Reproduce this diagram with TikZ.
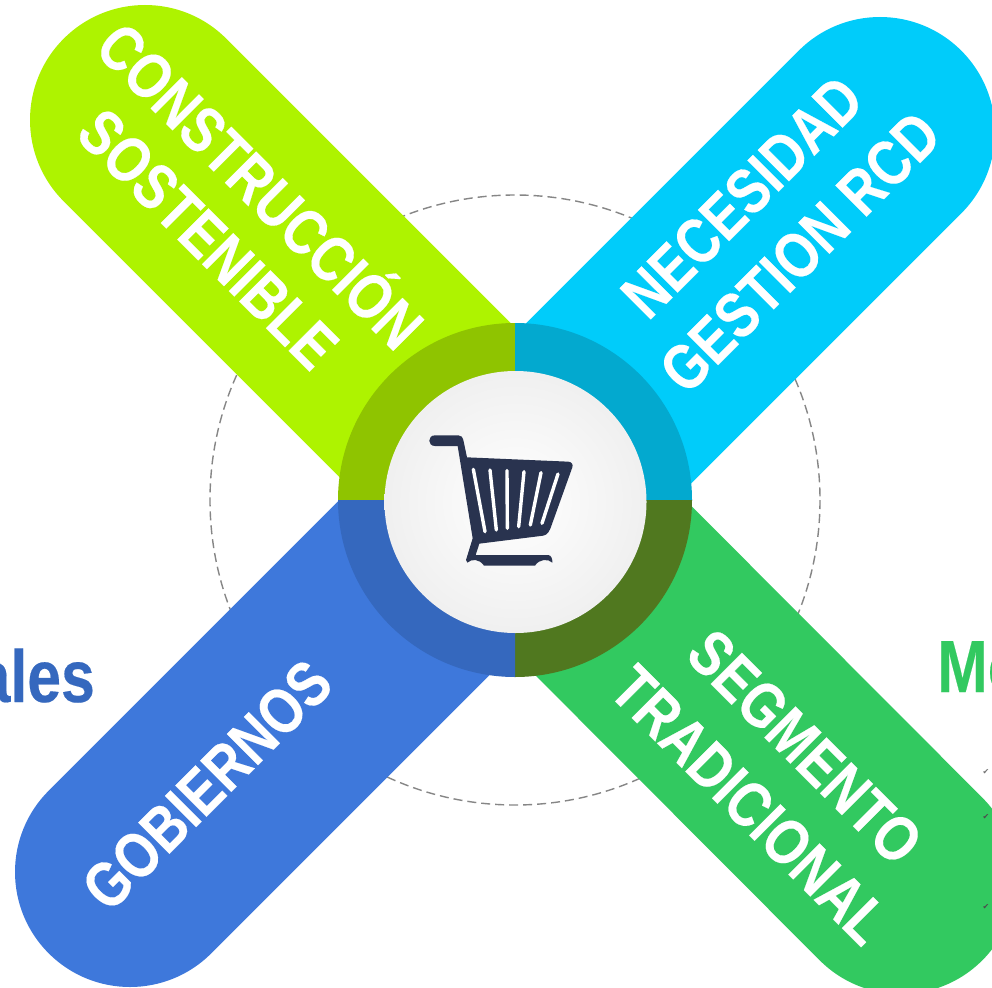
\documentclass[tikz,border=0pt]{standalone}
\usepackage{fontspec}
\setmainfont[FakeStretch=0.82,BoldFeatures={FakeBold=0.25}]{Liberation Sans}
\newfontfamily\symfont{DejaVu Sans}
\usetikzlibrary{shapes.geometric}
\definecolor{lime}{HTML}{AEF300}
\definecolor{limedark}{HTML}{8FC400}
\definecolor{sky}{HTML}{00CCFA}
\definecolor{skydark}{HTML}{03A9CF}
\definecolor{royal}{HTML}{3E78DB}
\definecolor{royaldark}{HTML}{3568BE}
\definecolor{leaf}{HTML}{32C960}
\definecolor{leafdark}{HTML}{50781F}
\definecolor{cartblue}{HTML}{29334F}
\tikzset{
  x=1pt,y=-1pt,
  band/.style={line width=230pt,line cap=round},
  bandlabel/.style={text=white,font=\bfseries\fontsize{64}{64}\selectfont,inner sep=0pt,anchor=center},
  sidelabel/.style={font=\bfseries\fontsize{74}{74}\selectfont,inner sep=0pt},
  tick/.style={font=\symfont\fontsize{8}{8}\selectfont,inner sep=0pt},
  slat/.style={draw=white,line width=3.4pt,line cap=round},
}
\begin{document}
\begin{tikzpicture}
\clip (0,0) rectangle (992,987);
\fill[white] (0,0) rectangle (992,987);
\coordinate (c) at (515,500);
\coordinate (hub) at (515.5,502);
\draw[gray!95,line width=1.4pt,dash pattern=on 9pt off 5pt] (c) circle[radius=305];
\node[sidelabel,text=royaldark,anchor=base east] (ales) at (95,702) {ales};
\node[sidelabel,text=leaf,anchor=base west] (mo) at (937,692) {Mo};
\draw[band,lime] (145,120) -- (488,463);
\draw[band,sky] (880,132) -- (515,497);
\draw[band,royal] (130,872) -- (500,502);
\draw[band,leaf] (901,879) -- (520,497);
\node[tick,text=black!55] (t1) at (986,772) {✔};
\node[tick,text=black!70] (t2) at (986,817) {✔};
\node[tick,text=black!70] (t3) at (986,907) {✔};
\fill[limedark] (c) -- (338,500) arc[start angle=180,end angle=270,radius=177] -- cycle;
\fill[skydark] (c) -- (515,323) arc[start angle=270,end angle=360,radius=177] -- cycle;
\fill[leafdark] (c) -- (692,500) arc[start angle=0,end angle=90,radius=177] -- cycle;
\fill[royaldark] (c) -- (515,677) arc[start angle=90,end angle=180,radius=177] -- cycle;
\shade[inner color=white,outer color=black!6] (hub) circle[radius=131];
\begin{scope}[shift={(380,370)},scale=1/3]
\fill[cartblue] (165,196) -- (235,196) .. controls (244,196) and (249,202) .. (250,210)
 -- (261,262) -- (565,275) .. controls (575,276) and (580,283) .. (577,292)
 -- (515,465) .. controls (510,482) and (502,495) .. (490,497)
 -- (298,521) -- (287,555) -- (505,555) .. controls (513,556) and (518,566) .. (517,578)
 .. controls (505,566) and (478,566) .. (465,587) -- (312,587)
 .. controls (298,566) and (275,566) .. (262,578) -- (258,570) -- (278,505) -- (233,228) -- (165,228)
 .. controls (142,228) and (142,196) .. (165,196) -- cycle;
\draw[slat] (280,298) -- (315,485);
\draw[slat] (330,300) -- (349,480);
\draw[slat] (381,302) -- (382,475);
\draw[slat] (432,305) -- (416,470);
\draw[slat] (483,308) -- (451,465);
\draw[slat] (534,312) -- (486,460);
\end{scope}
\node[bandlabel,rotate=-45] (l1) at (264,182) {CONSTRUCCIÓN};
\node[bandlabel,rotate=-45] (l2) at (208,239) {SOSTENIBLE};
\node[bandlabel,rotate=45] (l3) at (742,197) {NECESIDAD};
\node[bandlabel,rotate=45] (l4) at (800,252) {GESTION RCD};
\node[bandlabel,rotate=45] (l5) at (207,785) {GOBIERNOS};
\node[bandlabel,rotate=-45] (l6) at (805,747) {SEGMENTO};
\node[bandlabel,rotate=-45] (l7) at (750,805) {TRADICIONAL};
\end{tikzpicture}
\end{document}
